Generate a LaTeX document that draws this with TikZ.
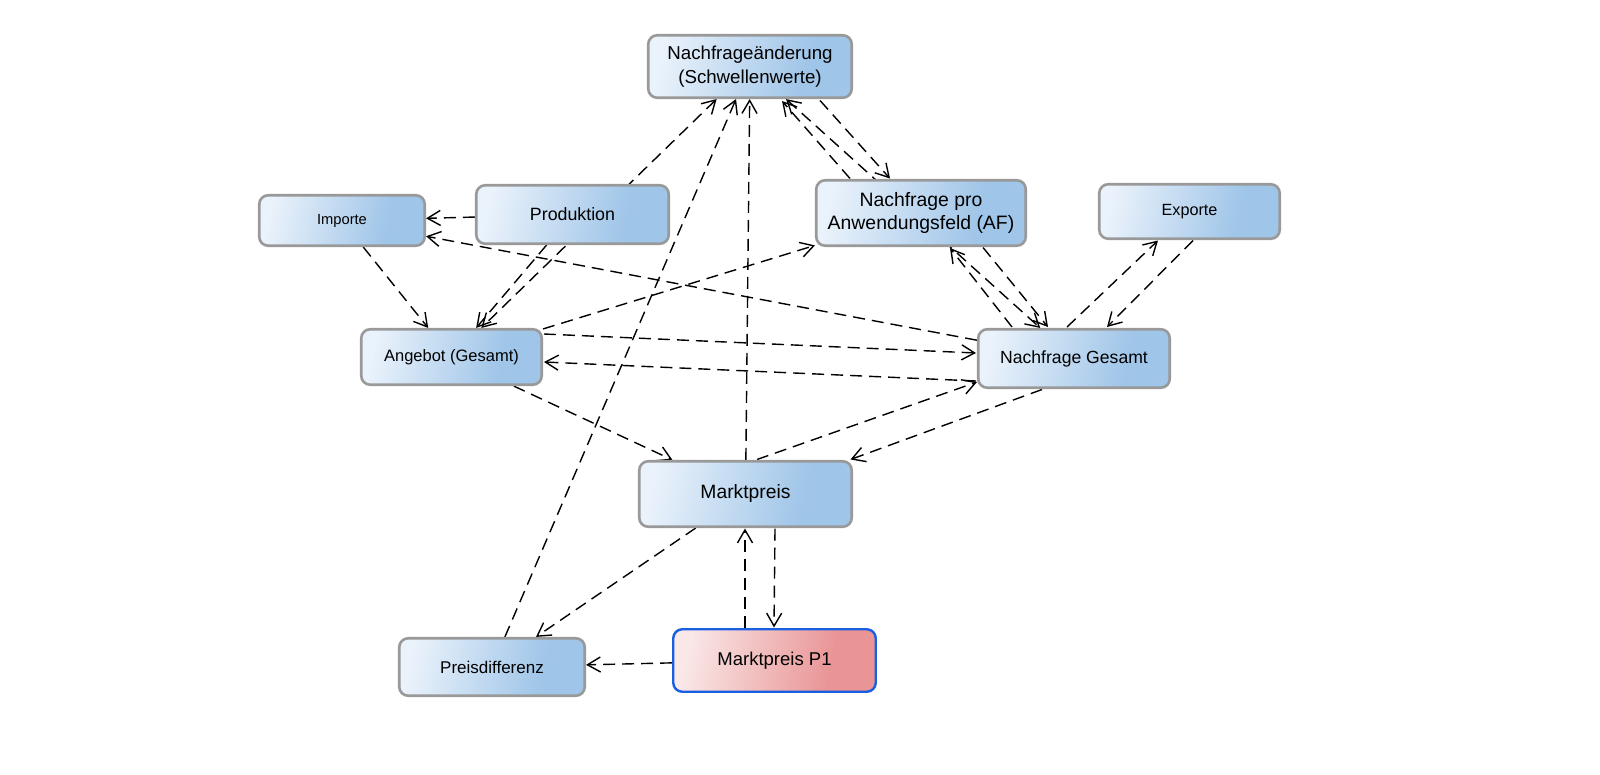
\documentclass[tikz,border=0pt]{standalone}
\usepackage{fontspec}
\setmainfont{Liberation Sans}
\usetikzlibrary{arrows.meta,calc}
\pgfdeclarelayer{bg}
\pgfsetlayers{bg,main}
\definecolor{blA}{HTML}{EAF2FB}
\definecolor{blB}{HTML}{9FC5E8}
\definecolor{rdA}{HTML}{FAE8E8}
\definecolor{rdB}{HTML}{E99596}
\definecolor{gb}{HTML}{999999}
\definecolor{pb}{HTML}{1A5FE0}
\pgfdeclarehorizontalshading{blsh}{100bp}{color(0bp)=(blA); color(25bp)=(blA); color(66bp)=(blB); color(100bp)=(blB)}
\pgfdeclarehorizontalshading{rdsh}{100bp}{color(0bp)=(rdA); color(25bp)=(rdA); color(66bp)=(rdB); color(100bp)=(rdB)}
\begin{document}
\begin{tikzpicture}[x=1pt,y=-1pt,
  box/.style={draw=gb, line width=2.6pt, rounded corners=9pt, shading=blsh, shading angle=-12, inner sep=0pt, align=center, text=black},
  redbox/.style={box, draw=pb, line width=2.4pt, shading=rdsh},
  link/.style={draw=black, line width=1.4pt, dash pattern=on 12pt off 7pt, -{Straight Barb[length=13pt,width=15pt]}},
  both/.style={link, {Straight Barb[length=13pt,width=15pt]}-{Straight Barb[length=13pt,width=15pt]}}
  ]
\useasboundingbox (0,0) rectangle (1600,774);

\node[box, minimum width=203.5pt, minimum height=62.5pt, font=\fontsize{18.7}{24}\selectfont] (na) at (750,66.5) {Nachfrageänderung\\(Schwellenwerte)};
\node[box, minimum width=209.5pt, minimum height=65.5pt, font=\fontsize{19.4}{23}\selectfont] (npaf) at (921,213) {Nachfrage pro\\Anwendungsfeld (AF)};
\node[box, minimum width=180.5pt, minimum height=54.5pt, font=\fontsize{16.2}{20}\selectfont] (exp) at (1189.5,211.5) {Exporte};
\node[box, minimum width=191.5pt, minimum height=58.5pt, font=\fontsize{17.6}{21}\selectfont] (ng) at (1074,358.5) {Nachfrage Gesamt};
\node[box, minimum width=165.5pt, minimum height=50.5pt, font=\fontsize{14.7}{18}\selectfont] (imp) at (342,220.5) {Importe};
\node[box, minimum width=192.5pt, minimum height=58.5pt, font=\fontsize{17.8}{21}\selectfont] (prod) at (572.5,214.5) {Produktion};
\node[box, minimum width=180.5pt, minimum height=55.5pt, font=\fontsize{16.5}{20}\selectfont] (ang) at (451.5,357) {Angebot (Gesamt)};
\node[box, minimum width=212.5pt, minimum height=65.5pt, font=\fontsize{19.3}{23}\selectfont] (mp) at (745.5,494) {Marktpreis};
\node[box, minimum width=185.5pt, minimum height=57.5pt, font=\fontsize{17}{20}\selectfont] (pd) at (492,667) {Preisdifferenz};
\node[redbox, minimum width=202.5pt, minimum height=62.5pt, font=\fontsize{18.5}{22}\selectfont] (p1) at (774.5,660.5) {Marktpreis P1};

\begin{pgfonlayer}{bg}
\draw[both] (na) -- (ang);
\draw[both] (na) -- (ng);
\draw[link] (pd) -- (na);
\draw[link] (mp) -- (na);
\draw[link] (prod) -- (imp);
\draw[link] (ng) -- (imp);
\draw[link] (imp) -- (ang);
\draw[link] (prod) -- (ang);
\draw[link] (ang) -- (npaf);
\draw[link] (ang) -- (mp);
\draw[link] (mp) -- (pd);
\draw[link] (p1) -- (pd);
% paired connectors
\draw[link] ($(npaf.center)+(-71,-34.5)$) -- ($(na.center)+(32,34.5)$);
\draw[link] ($(na.center)+(70,34)$) -- ($(npaf.center)+(-31,-34.5)$);
\draw[link] ($(npaf.center)+(62,34.5)$) -- ($(ng.center)+(-26,-31.5)$);
\draw[link] ($(ng.center)+(-62,-31.5)$) -- ($(npaf.center)+(29,35)$);
\draw[link] ($(ng.center)+(-7,-31.5)$) -- ($(exp.center)+(-31.5,29)$);
\draw[link] ($(exp.center)+(3.5,29)$) -- ($(ng.center)+(33,-31.5)$);
\draw[link] ($(ang.center)+(92.5,-23)$) -- ($(ng.center)+(-98,-5.5)$);
\draw[link] ($(ng.center)+(-98,22.5)$) -- ($(ang.center)+(92.5,5)$);
\draw[link] ($(mp.center)+(11.5,-34.5)$) -- ($(ng.center)+(-97,23.5)$);
\draw[link] ($(ng.center)+(-32,31)$) -- ($(mp.center)+(105,-34.5)$);
\draw[link] ($(mp.center)+(29.5,34.5)$) -- ($(p1.center)+(-0.5,-33)$);
\draw[link] ($(p1.center)+(-29.5,-33)$) -- ($(mp.center)+(-0.5,34.5)$);
\end{pgfonlayer}
\end{tikzpicture}
\end{document}
